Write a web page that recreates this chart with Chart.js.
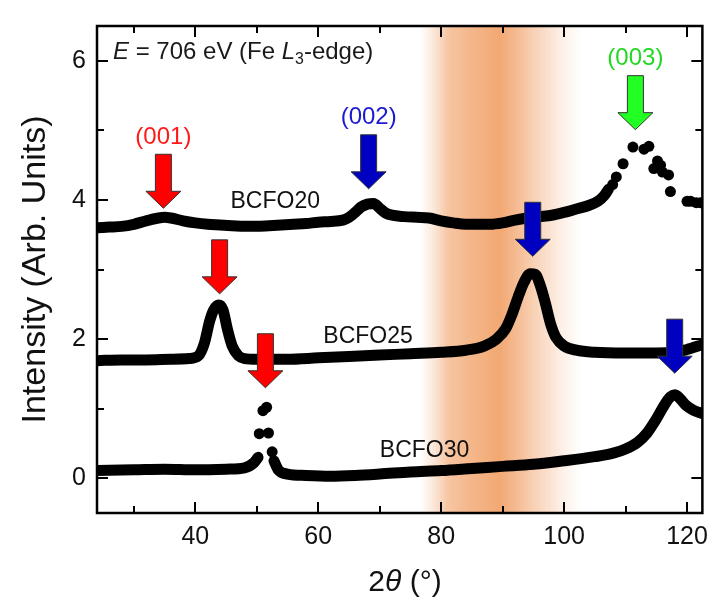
<!DOCTYPE html>
<html>
<head>
<meta charset="utf-8">
<script src="https://cdn.jsdelivr.net/npm/chart.js@4.4.1/dist/chart.umd.min.js"></script>
<style>
    html, body { margin: 0; padding: 0; background: #fff; }
</style>
</head>
<body>
<canvas id="xrdChart" width="717" height="602"></canvas>
<script>
const FONT = '"Liberation Sans", Arial, sans-serif';

// axis ticks
const xTicks = [40, 60, 80, 100, 120];
const xMinorTicks = [30, 50, 70, 90, 110];
const yTicks = [0, 2, 4, 6];
const yMinorTicks = [1, 3, 5];

// BCFO20 - continuous part
const bcfo20X = [24, 26, 28, 30, 32, 34, 35, 36, 38, 40, 42, 44, 46, 48, 50, 52, 54, 56, 58, 60, 62, 64, 65, 66, 67, 68, 69, 70, 71, 72, 74, 76, 78, 80, 82, 84, 86, 88, 90, 92, 94, 96, 98, 100, 102, 104, 105.5, 106.5, 107.2];
const bcfo20Y = [3.60, 3.61, 3.62, 3.65, 3.70, 3.74, 3.75, 3.74, 3.70, 3.67, 3.65, 3.64, 3.63, 3.62, 3.62, 3.63, 3.64, 3.65, 3.66, 3.68, 3.69, 3.71, 3.75, 3.82, 3.90, 3.94, 3.95, 3.88, 3.81, 3.78, 3.76, 3.75, 3.74, 3.70, 3.67, 3.65, 3.65, 3.65, 3.67, 3.71, 3.74, 3.76, 3.78, 3.82, 3.87, 3.92, 3.98, 4.06, 4.15];
// BCFO20 - sparse points round the (003) peak
const bcfo20DotsX = [107.9, 108.5, 109.6, 111.2, 113.0, 113.8, 114.6, 115.2, 115.7, 116.0, 117.0, 117.3, 120.0, 120.6, 121.5, 122.2];
const bcfo20DotsY = [4.22, 4.33, 4.52, 4.76, 4.73, 4.77, 4.45, 4.56, 4.50, 4.40, 4.36, 4.12, 3.98, 3.98, 3.96, 3.96];

// BCFO25
const bcfo25X = [24, 28, 32, 36, 39, 40.5, 41.5, 42.3, 43, 43.8, 44.5, 45.2, 46, 47, 48, 50, 55, 60, 65, 70, 75, 80, 84, 87, 89, 90.5, 91.5, 92.5, 93.5, 94.5, 95.3, 96.2, 97, 97.8, 98.7, 100, 102, 105, 110, 115, 118, 120, 122.5];
const bcfo25Y = [1.69, 1.70, 1.70, 1.71, 1.72, 1.76, 1.95, 2.25, 2.42, 2.49, 2.42, 2.15, 1.90, 1.76, 1.72, 1.71, 1.71, 1.73, 1.75, 1.77, 1.79, 1.81, 1.84, 1.90, 2.00, 2.15, 2.35, 2.60, 2.82, 2.94, 2.93, 2.75, 2.50, 2.22, 2.02, 1.90, 1.84, 1.81, 1.80, 1.80, 1.81, 1.85, 1.92];

// BCFO30 - left and right continuous parts, sparse points at the (001) peak
const bcfo30LeftX = [24, 30, 35, 40, 45, 48, 49.5, 50.2];
const bcfo30LeftY = [0.11, 0.12, 0.13, 0.12, 0.13, 0.15, 0.22, 0.30];
const bcfo30DotsX = [50.4, 51.0, 51.6, 51.9, 52.5];
const bcfo30DotsY = [0.64, 0.97, 1.02, 0.65, 0.38];
const bcfo30RightX = [52.8, 53.5, 55, 58, 62, 66, 70, 75, 80, 85, 90, 95, 100, 105, 108, 110, 112, 113.5, 115, 116.3, 117.3, 118, 118.8, 119.8, 121, 122.5];
const bcfo30RightY = [0.25, 0.12, 0.06, 0.04, 0.03, 0.04, 0.06, 0.09, 0.11, 0.14, 0.17, 0.20, 0.25, 0.31, 0.36, 0.42, 0.52, 0.65, 0.85, 1.05, 1.17, 1.20, 1.15, 1.05, 0.98, 0.93];

// arrows: position, tip height, colour and label
const arrowX = [34.8, 68.2, 111.6, 43.95, 94.9, 51.4, 118];
const arrowTipY = [3.88, 4.16, 5.01, 2.65, 3.19, 1.30, 1.51];
const arrowColor = ['#ff0000', '#0000c0', '#22ff22', '#ff0000', '#0000c0', '#ff0000', '#0000c0'];
const arrowLabel = ['(001)', '(002)', '(003)', '', '', '', ''];
const labelColor = ['#ff1a1a', '#1a1ad0', '#22d822'];

// sample names
const sampleNames = ['BCFO20', 'BCFO25', 'BCFO30'];
const sampleX = [53.0, 68.1, 77.3];
const sampleY = [3.98, 2.04, 0.40];

const toPts = (xs, ys) => xs.map((x, i) => ({x: x, y: ys[i]}));

function lineSet(xs, ys) {
    return {
        data: toPts(xs, ys),
        showLine: true,
        borderColor: '#000',
        backgroundColor: '#000',
        borderWidth: 11,
        borderCapStyle: 'round',
        borderJoinStyle: 'round',
        pointRadius: 0,
        cubicInterpolationMode: 'monotone'
    };
}
function dotSet(xs, ys) {
    return {
        data: toPts(xs, ys),
        showLine: false,
        pointRadius: 5.5,
        pointBorderWidth: 0,
        backgroundColor: '#000',
        borderColor: '#000'
    };
}

// orange band behind the curves
const bandPlugin = {
    id: 'band',
    beforeDatasetsDraw(chart) {
        const {ctx, chartArea: a, scales: {x}} = chart;
        const x0 = x.getPixelForValue(76.5), x1 = x.getPixelForValue(103);
        const g = ctx.createLinearGradient(x0, 0, x1, 0);
        const stops = [[76.5, 0], [79, 0.3], [81, 0.65], [84, 0.8], [89.5, 1], [92, 0.8], [96, 0.45], [100, 0.15], [103, 0]];
        stops.forEach(s => {
            g.addColorStop((x.getPixelForValue(s[0]) - x0) / (x1 - x0), 'rgba(242,168,115,' + s[1] + ')');
        });
        ctx.save();
        ctx.fillStyle = g;
        ctx.fillRect(x0, a.top, x1 - x0, a.bottom - a.top);
        ctx.restore();
    }
};

function drawRuns(ctx, runs, x, y, size) {
    let cx = x;
    runs.forEach(r => {
        const s = r.sub ? size * 0.66 : size;
        ctx.font = (r.italic ? 'italic ' : '') + s + 'px ' + FONT;
        ctx.fillText(r.t, cx, r.sub ? y + size * 0.22 : y);
        cx += ctx.measureText(r.t).width;
    });
    return cx;
}
function runsWidth(ctx, runs, size) {
    let w = 0;
    runs.forEach(r => {
        const s = r.sub ? size * 0.66 : size;
        ctx.font = (r.italic ? 'italic ' : '') + s + 'px ' + FONT;
        w += ctx.measureText(r.t).width;
    });
    return w;
}

// frame, inner ticks, arrows and texts
const overlayPlugin = {
    id: 'overlay',
    afterDraw(chart) {
        const {ctx, chartArea: a, scales: {x, y}} = chart;
        ctx.save();

        // arrows
        arrowX.forEach((xv, i) => {
            const px = x.getPixelForValue(xv), tip = y.getPixelForValue(arrowTipY[i]);
            const top = tip - 54, neck = tip - 17;
            ctx.beginPath();
            ctx.moveTo(px - 8, top);
            ctx.lineTo(px + 8, top);
            ctx.lineTo(px + 8, neck);
            ctx.lineTo(px + 17.5, neck);
            ctx.lineTo(px, tip);
            ctx.lineTo(px - 17.5, neck);
            ctx.lineTo(px - 8, neck);
            ctx.closePath();
            ctx.fillStyle = arrowColor[i];
            ctx.fill();
            ctx.lineWidth = 1;
            ctx.strokeStyle = '#333';
            ctx.stroke();
            if (arrowLabel[i]) {
                ctx.fillStyle = labelColor[i];
                ctx.font = '24px ' + FONT;
                ctx.textAlign = 'center';
                ctx.textBaseline = 'middle';
                ctx.fillText(arrowLabel[i], px, top - 17);
            }
        });

        // sample names
        ctx.fillStyle = '#111';
        ctx.font = '23px ' + FONT;
        ctx.textAlign = 'center';
        ctx.textBaseline = 'middle';
        sampleNames.forEach((n, i) => {
            ctx.fillText(n, x.getPixelForValue(sampleX[i]), y.getPixelForValue(sampleY[i]));
        });

        // energy note
        ctx.textAlign = 'left';
        ctx.textBaseline = 'alphabetic';
        ctx.fillStyle = '#1a1a1a';
        drawRuns(ctx, [
            {t: 'E', italic: true}, {t: ' = 706 eV (Fe '}, {t: 'L', italic: true},
            {t: '3', sub: true}, {t: '-edge)'}
        ], a.left + 16, a.top + 33, 24);

        // x axis title
        const xt = [{t: '2'}, {t: 'θ', italic: true}, {t: ' (°)'}];
        const w = runsWidth(ctx, xt, 30);
        ctx.fillStyle = '#111';
        drawRuns(ctx, xt, 405 - w / 2, 591, 30);

        // frame
        ctx.strokeStyle = '#000';
        ctx.lineWidth = 2.5;
        ctx.strokeRect(a.left, a.top, a.right - a.left, a.bottom - a.top);

        // inner ticks on all four sides
        ctx.lineWidth = 2;
        const tick = (vals, len) => {
            vals.forEach(v => {
                const px = Math.round(x.getPixelForValue(v));
                ctx.beginPath();
                ctx.moveTo(px, a.bottom); ctx.lineTo(px, a.bottom - len);
                ctx.moveTo(px, a.top); ctx.lineTo(px, a.top + len);
                ctx.stroke();
            });
        };
        const ytick = (vals, len) => {
            vals.forEach(v => {
                const py = Math.round(y.getPixelForValue(v));
                ctx.beginPath();
                ctx.moveTo(a.left, py); ctx.lineTo(a.left + len, py);
                ctx.moveTo(a.right, py); ctx.lineTo(a.right - len, py);
                ctx.stroke();
            });
        };
        tick(xTicks, 11);
        tick(xMinorTicks, 7);
        ytick(yTicks, 11);
        ytick(yMinorTicks, 7);
        ctx.restore();
    }
};

const ctx = document.getElementById('xrdChart');
new Chart(ctx, {
    type: 'scatter',
    data: {
        datasets: [
            lineSet(bcfo20X, bcfo20Y),
            dotSet(bcfo20DotsX, bcfo20DotsY),
            lineSet(bcfo25X, bcfo25Y),
            lineSet(bcfo30LeftX, bcfo30LeftY),
            dotSet(bcfo30DotsX, bcfo30DotsY),
            lineSet(bcfo30RightX, bcfo30RightY)
        ]
    },
    options: {
        responsive: false,
        animation: false,
        devicePixelRatio: 1,
        layout: {
            padding: {top: 10, right: 5, left: 0, bottom: 0}
        },
        plugins: {
            legend: {display: false},
            tooltip: {enabled: false}
        },
        scales: {
            x: {
                type: 'linear',
                min: 24,
                max: 122.5,
                afterBuildTicks: s => { s.ticks = xTicks.map(v => ({value: v})); },
                afterFit: s => { s.height = 89; },
                grid: {display: false, drawTicks: false},
                border: {display: false},
                ticks: {
                    color: '#111',
                    padding: 9,
                    maxRotation: 0,
                    font: {family: FONT, size: 25}
                }
            },
            y: {
                type: 'linear',
                min: -0.5,
                max: 6.5,
                afterBuildTicks: s => { s.ticks = yTicks.map(v => ({value: v})); },
                afterFit: s => { s.width = 97; },
                grid: {display: false, drawTicks: false},
                border: {display: false},
                ticks: {
                    color: '#111',
                    padding: 11,
                    font: {family: FONT, size: 25}
                },
                title: {
                    display: true,
                    text: 'Intensity (Arb. Units)',
                    color: '#111',
                    padding: {top: 15, bottom: 0},
                    font: {family: FONT, size: 34}
                }
            }
        }
    },
    plugins: [bandPlugin, overlayPlugin]
});
</script>
</body>
</html>
